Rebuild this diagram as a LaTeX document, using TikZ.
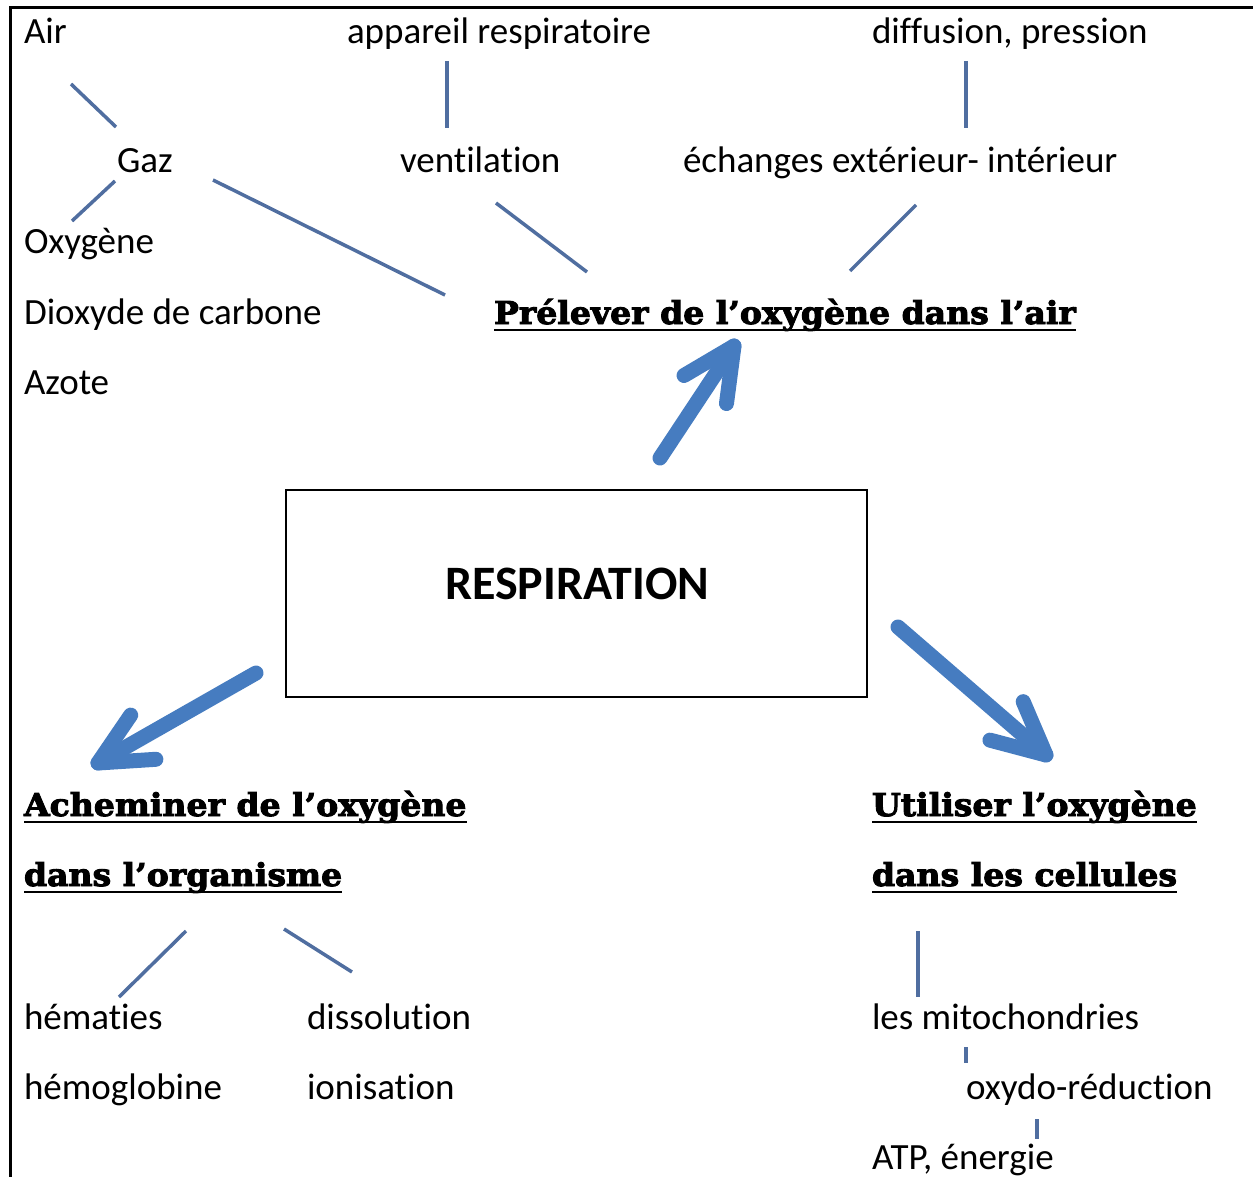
\documentclass[tikz,border=0pt]{standalone}
\usepackage{fontspec}
\setmainfont[Ligatures=NoCommon]{Carlito}
\newfontfamily\headfont[BoldFont={DejaVu Serif Bold}, BoldFeatures={FakeBold=3, FakeStretch=1.05}]{DejaVu Serif}
\usetikzlibrary{calc}
\definecolor{thinblue}{RGB}{80,110,160}
\definecolor{bigblue}{RGB}{70,124,192}
\tikzset{
  txt/.style={anchor=base west, inner sep=0pt, outer sep=0pt, font=\fontsize{37}{44}\selectfont},
  head/.style={anchor=base west, inner sep=0pt, outer sep=0pt, font=\headfont\bfseries\fontsize{31.5}{38}\selectfont},
  uline/.style={draw=black, line width=2.5pt},
  link/.style={draw=thinblue, line width=3.5pt},
  bigarrow/.style={draw=bigblue, line width=15pt, line cap=round, line join=round},
  mainbox/.style={draw=black, line width=2.5pt, minimum width=581pt, minimum height=207pt, inner sep=0pt},
}
\begin{document}
\begin{tikzpicture}[x=1pt, y=-1pt]
\useasboundingbox (0,0) rectangle (1253,1177);
% frame
\draw[line width=3pt] (10,1177) -- (10,8) -- (1253,8);

% central box
\node[mainbox] (resp) at (576.5,593.5) {};
\node[anchor=base, inner sep=0pt, font=\bfseries\fontsize{48}{56}\selectfont] (resptxt) at (577,599) {RESPIRATION};

% top-left group
\node[txt] (air) at (24,44) {Air};
\node[txt] (gaz) at (117,173) {Gaz};
\node[txt] (oxy) at (24,254) {Oxygène};
\node[txt] (co2) at (24,324) {Dioxyde de carbone};
\node[txt] (azote) at (24,394) {Azote};
\node[txt] (app) at (347,44) {appareil respiratoire};
\node[txt] (vent) at (400,173) {ventilation};
\node[txt] (diff) at (872,44) {diffusion, pression};
\node[txt] (ech) at (683,173) {échanges extérieur- intérieur};

\node[head] (prel) at (494,324) {Prélever de l’oxygène dans l’air};
\draw[uline] ([yshift=-6pt]prel.base west) -- ([yshift=-6pt]prel.base east);

% top connectors
\coordinate (l1a) at (71,84);   \coordinate (l1b) at (116,127);
\coordinate (l2a) at (115,181); \coordinate (l2b) at (72,221);
\coordinate (l3a) at (213,180); \coordinate (l3b) at (445,295);
\coordinate (l4a) at (447,61);  \coordinate (l4b) at (447,128);
\coordinate (l5a) at (496,203); \coordinate (l5b) at (587,272);
\coordinate (l6a) at (966,61);  \coordinate (l6b) at (966,128);
\coordinate (l7a) at (916,205); \coordinate (l7b) at (850,271);
\draw[link] (l1a) -- (l1b);
\draw[link] (l2a) -- (l2b);
\draw[link] (l3a) -- (l3b);
\draw[link] (l4a) -- (l4b);
\draw[link] (l5a) -- (l5b);
\draw[link] (l6a) -- (l6b);
\draw[link] (l7a) -- (l7b);

% bottom-left group
\node[head] (ach1) at (24,816) {Acheminer de l’oxygène};
\node[head] (ach2) at (24,886) {dans l’organisme};
\draw[uline] ([yshift=-6pt]ach1.base west) -- ([yshift=-6pt]ach1.base east);
\draw[uline] ([yshift=-6pt]ach2.base west) -- ([yshift=-6pt]ach2.base east);
\node[txt] (hem) at (24,1029) {hématies};
\node[txt] (hemo) at (24,1099) {hémoglobine};
\node[txt] (diss) at (307,1029) {dissolution};
\node[txt] (ion) at (307,1099) {ionisation};
\coordinate (l8a) at (186,931); \coordinate (l8b) at (119,997);
\coordinate (l9a) at (284,929); \coordinate (l9b) at (352,972);
\draw[link] (l8a) -- (l8b);
\draw[link] (l9a) -- (l9b);

% bottom-right group
\node[head] (uti1) at (872,816) {Utiliser l’oxygène};
\node[head] (uti2) at (872,886) {dans les cellules};
\draw[uline] ([yshift=-6pt]uti1.base west) -- ([yshift=-6pt]uti1.base east);
\draw[uline] ([yshift=-6pt]uti2.base west) -- ([yshift=-6pt]uti2.base east);
\node[txt] (mito) at (872,1029) {les mitochondries};
\node[txt] (oxred) at (966,1099) {oxydo-réduction};
\node[txt] (atp) at (872,1169) {ATP, énergie};
\coordinate (l10a) at (918,931);  \coordinate (l10b) at (918,997);
\coordinate (l11a) at (966,1047); \coordinate (l11b) at (966,1063);
\coordinate (l12a) at (1037,1119); \coordinate (l12b) at (1037,1139);
\draw[link] (l10a) -- (l10b);
\draw[link] (l11a) -- (l11b);
\draw[link] (l12a) -- (l12b);

% thick arrows
\coordinate (t1) at (660,458);  \coordinate (h1) at (734,346);
\coordinate (t2) at (256,673);  \coordinate (h2) at (98,763);
\coordinate (t3) at (898,627);  \coordinate (h3) at (1046,755);
\draw[bigarrow] (t1) -- (h1);
\draw[bigarrow] ($(h1)!58pt!26:(t1)$) -- (h1) -- ($(h1)!58pt!-26:(t1)$);
\draw[bigarrow] (t2) -- (h2);
\draw[bigarrow] ($(h2)!58pt!26:(t2)$) -- (h2) -- ($(h2)!58pt!-26:(t2)$);
\draw[bigarrow] (t3) -- (h3);
\draw[bigarrow] ($(h3)!58pt!26:(t3)$) -- (h3) -- ($(h3)!58pt!-26:(t3)$);
\end{tikzpicture}
\end{document}
